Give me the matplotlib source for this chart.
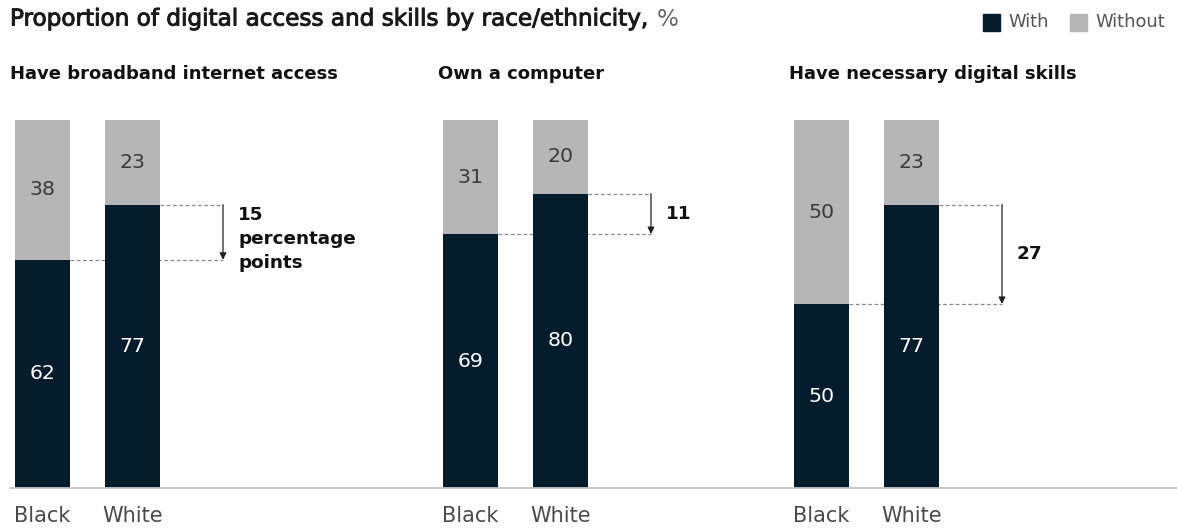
import matplotlib
matplotlib.use("Agg")
import matplotlib.pyplot as plt
import matplotlib.patheffects as pe

plt.rcParams['font.family'] = ['DejaVu Sans']

# Data
panels = ["Have broadband internet access", "Own a computer", "Have necessary digital skills"]
groups = ["Black", "White"]
with_black = [62, 69, 50]
with_white = [77, 80, 77]
without_black = [38, 31, 50]
without_white = [23, 20, 23]
diff_labels = ["{}\npercentage\npoints", "{}", "{}"]
legend_labels = ["With", "Without"]
title = "Proportion of digital access and skills by race/ethnicity, "

DARK = "#051c2c"
GRAY = "#b6b6b6"
W, H = 1177, 529

fig = plt.figure(figsize=(W / 100, H / 100), dpi=100)
renderer = fig.canvas.get_renderer()


def size_for(s, width_px, weight="normal"):
    """Font size at which string s spans width_px pixels."""
    t = fig.text(0, 0, s, fontsize=10, fontweight=weight)
    w = t.get_window_extent(renderer).width
    t.remove()
    return 10 * width_px / w


fs_title = size_for(title + "%", 668)
fs_sub = size_for(panels[0], 330, "bold")
fs_cat = size_for("Black", 57)
fs_val = size_for("38", 26)
fs_leg = size_for("Without", 70)
fs_diff = size_for("percentage", 118, "bold")

ax = fig.add_axes([0, 41 / H, 1, 368 / H])
ax.set_xlim(0, W)
ax.set_ylim(0, 100)
ax.axis("off")

px = 100 / 368  # one vertical pixel in data units

panel_left = [15, 443, 794]
bar_w = 55
white_offset = 90
arrow_offset = 63

for i, name in enumerate(panels):
    xb = panel_left[i] + bar_w / 2
    xw = xb + white_offset
    wb, ww = with_black[i], with_white[i]
    ob, ow = without_black[i], without_white[i]

    ax.bar([xb, xw], [wb, ww], width=bar_w, color=DARK, zorder=3)
    ax.bar([xb, xw], [ob, ow], bottom=[wb, ww], width=bar_w, color=GRAY, zorder=3)

    for x, w, o in [(xb, wb, ob), (xw, ww, ow)]:
        ax.text(x, w / 2, str(w), ha="center", va="center", color="white", fontsize=fs_val, zorder=4)
        ax.text(x, w + o / 2, str(o), ha="center", va="center", color="#3a3a3a", fontsize=fs_val, zorder=4)

    # gap connector
    xa = xw + bar_w / 2 + arrow_offset
    ax.plot([xb + bar_w / 2, xa], [wb, wb], ls=(0, (3, 2)), color="#8a8a8a", lw=0.9, zorder=2)
    ax.plot([xw + bar_w / 2, xa], [ww, ww], ls=(0, (3, 2)), color="#8a8a8a", lw=0.9, zorder=2)
    ax.annotate("", xy=(xa, wb), xytext=(xa, ww),
                arrowprops=dict(arrowstyle="-|>,head_length=0.4,head_width=0.2", color="#222222", lw=0.9,
                                shrinkA=0, shrinkB=0))
    label = diff_labels[i].format(ww - wb)
    if "\n" in label:
        ax.text(xa + 15, ww - 1 * px, label, ha="left", va="top",
                fontsize=fs_diff, fontweight="bold", color="#111111", linespacing=1.45)
    else:
        ax.text(xa + 15, (wb + ww) / 2, label, ha="left", va="center",
                fontsize=fs_diff, fontweight="bold", color="#111111")

    # panel heading
    ax.text(panel_left[i] - 5, 100 + (120 - 74) * px, name, ha="left", va="center",
            fontsize=fs_sub, fontweight="bold", color="#111111", clip_on=False)

    for x, g in [(xb, groups[0]), (xw, groups[1])]:
        ax.text(x, -(516 - 488) * px, g, ha="center", va="center", fontsize=fs_cat,
                color="#4a4a4a", clip_on=False)

# baseline
ax.plot([10, W], [0, 0], color="#c4c4c4", lw=1.3, clip_on=False, zorder=5)

# title
t = fig.text(10 / W, 1 - 19 / H, title, ha="left", va="center", fontsize=fs_title, color="#1a1a1a",
             path_effects=[pe.withStroke(linewidth=0.7, foreground="#1a1a1a")])
bb = t.get_window_extent(renderer)
fig.text(bb.x1 / W, 1 - 19 / H, "%", ha="left", va="center", fontsize=fs_title, color="#666666")

# legend
for x0, lab, c in [(983, legend_labels[0], DARK), (1070, legend_labels[1], GRAY)]:
    fig.patches.append(plt.Rectangle((x0 / W, 1 - 31 / H), 17 / W, 17 / H, transform=fig.transFigure,
                                     color=c, figure=fig))
    fig.text((x0 + 25) / W, 1 - 22 / H, lab, ha="left", va="center", fontsize=fs_leg, color="#555555")

fig.savefig("out.png", dpi=100, facecolor="white")
